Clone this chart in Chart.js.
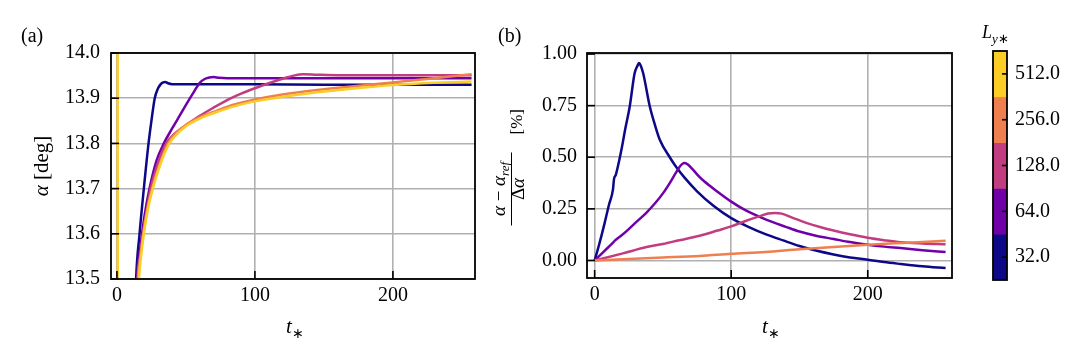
<!DOCTYPE html>
<html><head><meta charset="utf-8">
<script src="https://cdn.jsdelivr.net/npm/chart.js@4.4.0/dist/chart.umd.min.js"></script>
<style>
html,body{margin:0;padding:0;background:#fff;}
body{width:1089px;height:359px;overflow:hidden;position:relative;font-family:'Liberation Serif',serif;color:#000;}
canvas{position:absolute;top:0;}
.t{position:absolute;white-space:nowrap;line-height:1;}
.rot{position:absolute;transform:translate(-50%,-50%) rotate(-90deg);white-space:nowrap;line-height:1;}
</style></head><body>
<canvas id="ca" width="480" height="359" style="left:0"></canvas>
<canvas id="cb" width="480" height="359" style="left:480px"></canvas>
<canvas id="cc" width="129" height="359" style="left:960px"></canvas>

<div class="t" style="left:21px;top:25px;font-size:20px;">(a)</div>
<div class="t" style="left:498px;top:25px;font-size:20px;">(b)</div>
<div class="rot" style="left:41px;top:166px;font-size:21px;"><i>α</i> [deg]</div>
<div class="t" style="left:286px;top:316px;font-size:21px;"><i>t</i><span style="font-size:14px;position:relative;top:5px;">∗</span></div>
<div class="t" style="left:762px;top:316px;font-size:21px;"><i>t</i><span style="font-size:14px;position:relative;top:5px;">∗</span></div>
<div class="t" style="left:982px;top:23px;font-size:18px;"><i>L</i><span style="font-size:13px;position:relative;top:5px;"><i>y</i>∗</span></div>
<div style="position:absolute;left:510.5px;top:166.5px;width:117px;height:28px;transform:translate(-50%,-50%) rotate(-90deg);">
  <div style="position:absolute;left:0;top:-8px;width:73px;text-align:center;font-size:19px;line-height:1;white-space:nowrap;"><i>α</i> − <i>α</i><span style="font-size:13px;position:relative;top:4px;"><i>ref</i></span></div>
  <div style="position:absolute;left:0;top:13.5px;width:73px;height:0;border-top:1px solid #000;"></div>
  <div style="position:absolute;left:0;top:10.5px;width:73px;text-align:center;font-size:19px;line-height:1;">Δ<i>α</i></div>
  <div style="position:absolute;left:91px;top:11px;font-size:17px;line-height:1;">[%]</div>
</div>

<script>
const FONT = 'Liberation Serif';
const seriesLabels = ['32.0', '64.0', '128.0', '256.0', '512.0'];
const seriesColors = ['#0d0887', '#7000a8', '#c13d80', '#ef7f4f', '#fccd25'];
const xTicks = [0, 100, 200];
const yTicksA = [13.5, 13.6, 13.7, 13.8, 13.9, 14.0];
const yTicksB = [0, 0.25, 0.5, 0.75, 1.0];

// Panel (a): alpha [deg] vs t*
const tA32 = [0, 13.9, 16.4, 19.5, 22.9, 25, 27.4, 29.5, 31.5, 33.5, 35, 37, 40, 60, 100, 150, 200, 257];
const alpha32 = [12.0, 13.5, 13.6, 13.7, 13.8, 13.85, 13.9, 13.92, 13.93, 13.935, 13.936, 13.933, 13.931, 13.931, 13.931, 13.930, 13.930, 13.930];
const tA64 = [0, 14.6, 17, 20, 23.6, 28.8, 34, 40, 46, 51, 56, 60, 64, 67, 70, 74, 80, 100, 150, 200, 257];
const alpha64 = [12.0, 13.5, 13.57, 13.64, 13.7, 13.763, 13.8, 13.833, 13.864, 13.89, 13.915, 13.934, 13.943, 13.946, 13.947, 13.945, 13.944, 13.944, 13.944, 13.944, 13.944];
const tA128 = [0, 15, 16.8, 19, 21.5, 24.4, 29, 35.7, 42, 50, 60, 70, 82, 90, 100, 110, 120, 128, 135, 145, 160, 200, 257];
const alpha128 = [12.0, 13.5, 13.55, 13.6, 13.65, 13.7, 13.75, 13.8, 13.822, 13.84, 13.861, 13.879, 13.899, 13.91, 13.922, 13.933, 13.943, 13.95, 13.953, 13.952, 13.951, 13.951, 13.951];
const tA256 = [0, 15.3, 17, 19, 22, 25.5, 30.5, 37, 43, 50, 60, 72, 85, 100, 120, 145, 170, 200, 230, 257];
const alpha256 = [12.0, 13.5, 13.55, 13.6, 13.655, 13.7, 13.75, 13.8, 13.824, 13.841, 13.858, 13.872, 13.886, 13.897, 13.908, 13.918, 13.926, 13.935, 13.944, 13.953];
const tA512 = [0.5, 0.7, 16, 17.5, 19.5, 22.5, 26, 31, 38, 44, 50, 60, 72, 85, 100, 120, 145, 170, 200, 230, 257];
const alpha512 = [14.6, 12.0, 13.5, 13.55, 13.6, 13.655, 13.7, 13.75, 13.8, 13.822, 13.838, 13.855, 13.869, 13.882, 13.893, 13.903, 13.913, 13.921, 13.929, 13.934, 13.937];

// Panel (b): (alpha - alpha_ref)/delta alpha [%] vs t*
const tB32 = [0, 3, 7.3, 10.5, 13.4, 14.2, 15.5, 19.6, 22.5, 25.7, 29.3, 31.5, 32.5, 33.7, 35.5, 40.4, 44, 47.7, 55, 60, 66, 75, 87, 100, 113, 126, 138, 150, 162, 175, 187, 200, 212, 224, 240, 257];
const diff32 = [0, 0.07, 0.181, 0.27, 0.343, 0.395, 0.415, 0.536, 0.64, 0.746, 0.908, 0.945, 0.956, 0.945, 0.908, 0.746, 0.66, 0.585, 0.5, 0.45, 0.4, 0.335, 0.265, 0.205, 0.162, 0.125, 0.097, 0.07, 0.048, 0.029, 0.0145, 0.0035, -0.008, -0.017, -0.028, -0.037];
const tB64 = [0, 5, 10, 14, 15, 20, 25, 30, 38, 45, 50, 55, 60, 63, 65.5, 68, 72, 76, 80, 90, 100, 110, 126, 140, 150, 162, 175, 187, 200, 212, 224, 240, 257];
const diff64 = [0, 0.032, 0.064, 0.09, 0.097, 0.123, 0.152, 0.183, 0.232, 0.283, 0.325, 0.375, 0.43, 0.46, 0.472, 0.466, 0.44, 0.41, 0.385, 0.333, 0.285, 0.245, 0.197, 0.163, 0.14, 0.12, 0.104, 0.089, 0.076, 0.067, 0.06, 0.05, 0.041];
const tB128 = [0, 20, 38, 50, 62, 77, 90, 100, 110, 121, 127, 132, 137, 145.5, 155, 165, 175, 187, 200, 212, 224, 240, 257];
const diff128 = [0, 0.033, 0.065, 0.08, 0.098, 0.12, 0.145, 0.165, 0.19, 0.215, 0.227, 0.23, 0.227, 0.205, 0.182, 0.162, 0.145, 0.127, 0.11, 0.098, 0.088, 0.082, 0.078];
const tB256 = [0, 50, 77, 100, 125, 150, 175, 200, 230, 257];
const diff256 = [0, 0.014, 0.022, 0.032, 0.041, 0.054, 0.065, 0.076, 0.086, 0.095];

const pts = (t, v) => t.map((x, i) => ({x: x, y: v[i]}));

const framePlugin = {
  id: 'frame',
  afterDatasetsDraw(chart, args, o) {
    const ctx = chart.ctx, a = chart.chartArea;
    ctx.save();
    ctx.strokeStyle = '#000';
    ctx.lineWidth = 1.6;
    const L = o.len || 8;
    (o.left || []).forEach(id => {
      const s = chart.scales[id];
      s.ticks.forEach((t, i) => { const y = s.getPixelForTick(i); ctx.beginPath(); ctx.moveTo(a.left, y); ctx.lineTo(a.left + L, y); ctx.stroke(); });
    });
    (o.right || []).forEach(id => {
      const s = chart.scales[id];
      s.ticks.forEach((t, i) => { const y = s.getPixelForTick(i); ctx.beginPath(); ctx.moveTo(a.right, y); ctx.lineTo(a.right - L, y); ctx.stroke(); });
    });
    (o.bottom || []).forEach(id => {
      const s = chart.scales[id];
      s.ticks.forEach((t, i) => { const x = s.getPixelForTick(i); ctx.beginPath(); ctx.moveTo(x, a.bottom); ctx.lineTo(x, a.bottom - L); ctx.stroke(); });
    });
    ctx.lineWidth = 1.8;
    ctx.strokeRect(a.left, a.top, a.right - a.left, a.bottom - a.top);
    ctx.restore();
  }
};

function lineChart(id, sets, xmin, xmax, ymin, ymax, yTicks, yDec, leftW, rightPad, bottomH, yPad) {
  return new Chart(document.getElementById(id), {
    type: 'line',
    data: {
      datasets: sets.map(s => ({
        data: s.data, borderColor: s.color, backgroundColor: s.color, order: s.order,
        borderWidth: 2.5, pointRadius: 0, fill: false, clip: 0, cubicInterpolationMode: 'monotone'
      }))
    },
    options: {
      responsive: false, animation: false, devicePixelRatio: 1,
      layout: {padding: {top: 53, right: rightPad, left: 0, bottom: 0}},
      plugins: {legend: {display: false}, tooltip: {enabled: false}, frame: {left: ['y'], bottom: ['x'], len: 8}},
      scales: {
        x: {
          type: 'linear', min: xmin, max: xmax,
          afterBuildTicks: s => { s.ticks = xTicks.map(v => ({value: v})); },
          afterFit: s => { s.height = bottomH; },
          grid: {color: '#b0b0b0', lineWidth: 1.6, drawTicks: false},
          border: {display: false},
          ticks: {color: '#000', font: {family: FONT, size: 20}, padding: 5, maxRotation: 0, autoSkip: false, callback: v => String(v)}
        },
        y: {
          type: 'linear', min: ymin, max: ymax,
          afterBuildTicks: s => { s.ticks = yTicks.map(v => ({value: v})); },
          afterFit: s => { s.width = leftW; },
          grid: {color: '#b0b0b0', lineWidth: 1.6, drawTicks: false},
          border: {display: false},
          ticks: {color: '#000', font: {family: FONT, size: 20}, padding: yPad, autoSkip: false, callback: v => Number(v).toFixed(yDec)}
        }
      }
    },
    plugins: [framePlugin]
  });
}

lineChart('ca', [
  {data: pts(tA32, alpha32), color: seriesColors[0], order: 4},
  {data: pts(tA64, alpha64), color: seriesColors[1], order: 3},
  {data: pts(tA128, alpha128), color: seriesColors[2], order: 2},
  {data: pts(tA256, alpha256), color: seriesColors[3], order: 1},
  {data: pts(tA512, alpha512), color: seriesColors[4], order: 0}
], -4.3, 259.5, 13.5, 14.0, yTicksA, 1, 111, 5, 80, 11);

lineChart('cb', [
  {data: pts(tB32, diff32), color: seriesColors[0], order: 4},
  {data: pts(tB64, diff64), color: seriesColors[1], order: 3},
  {data: pts(tB128, diff128), color: seriesColors[2], order: 2},
  {data: pts(tB256, diff256), color: seriesColors[3], order: 1}
], -5.6, 261.7, -0.085, 1.005, yTicksB, 2, 107, 8, 81, 10);

// Colorbar
new Chart(document.getElementById('cc'), {
  type: 'bar',
  data: {labels: seriesLabels, datasets: [{data: seriesLabels.map(() => 1), backgroundColor: seriesColors, borderWidth: 0, barPercentage: 1, categoryPercentage: 1}]},
  options: {
    indexAxis: 'y', responsive: false, animation: false, devicePixelRatio: 1,
    layout: {padding: {top: 51, left: 33, bottom: 79, right: 0}},
    plugins: {legend: {display: false}, tooltip: {enabled: false}, frame: {right: ['y'], len: 5}},
    scales: {
      x: {display: false, min: 0, max: 1},
      y: {
        position: 'right', reverse: true,
        afterFit: s => { s.width = 82; },
        grid: {display: false, drawTicks: false}, border: {display: false},
        ticks: {color: '#000', font: {family: FONT, size: 20}, padding: 8}
      }
    }
  },
  plugins: [framePlugin]
});
</script>
</body></html>
